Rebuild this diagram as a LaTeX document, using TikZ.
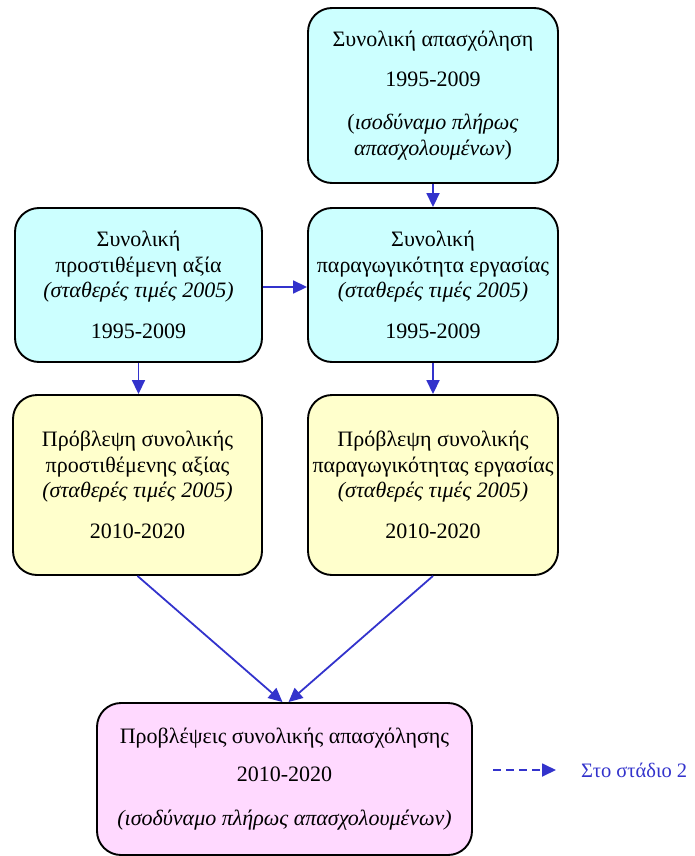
\documentclass[tikz,border=0pt]{standalone}
\usepackage{fontspec}
\setmainfont{Liberation Serif}
\usetikzlibrary{arrows.meta}
\definecolor{cyanfill}{HTML}{CCFFFF}
\definecolor{yelfill}{HTML}{FFFFCC}
\definecolor{pinkfill}{HTML}{FFD9FF}
\definecolor{arrblue}{HTML}{3333CC}
\begin{document}
\begin{tikzpicture}[x=1pt,y=-1pt,
  box/.style={draw=black, line width=1.9pt, rounded corners=24pt, align=center, inner sep=0pt,
    font=\fontsize{22}{25.5}\selectfont},
  conn/.style={draw=arrblue, line width=1.8pt, -{Triangle[length=14pt,width=13pt]}}]
\useasboundingbox (0,0) rectangle (694,856);
\node[box, fill=cyanfill, minimum width=250pt, minimum height=175pt] (A) at (433,95.5)
  {Συνολική απασχόληση\\[14pt]1995-2009\\[18pt](\textit{ισοδύναμο πλήρως}\\\textit{απασχολουμένων})};
\node[box, fill=cyanfill, minimum width=247pt, minimum height=154pt] (B) at (138.5,285)
  {Συνολική\\προστιθέμενη αξία\\\textit{(σταθερές τιμές 2005)}\\[15pt]1995-2009};
\node[box, fill=cyanfill, minimum width=250pt, minimum height=154pt] (C) at (433,285)
  {Συνολική\\παραγωγικότητα εργασίας\\\textit{(σταθερές τιμές 2005)}\\[15pt]1995-2009};
\node[box, fill=yelfill, minimum width=249pt, minimum height=180pt] (D) at (137.5,485)
  {Πρόβλεψη συνολικής\\προστιθέμενης αξίας\\\textit{(σταθερές τιμές 2005)}\\[15pt]2010-2020};
\node[box, fill=yelfill, minimum width=250pt, minimum height=180pt] (E) at (433,485)
  {Πρόβλεψη συνολικής\\παραγωγικότητας εργασίας\\\textit{(σταθερές τιμές 2005)}\\[15pt]2010-2020};
\node[box, fill=pinkfill, minimum width=375pt, minimum height=152pt] (F) at (284.5,779)
  {Προβλέψεις συνολικής απασχόλησης\\[13pt]2010-2020\\[18pt]\textit{(ισοδύναμο πλήρως απασχολουμένων)}};
\draw[conn] (A.south) -- (C.north);
\draw[conn] (B.east |- 0,287) -- (C.west |- 0,287);
\draw[conn] (B.south) -- (B.south |- D.north);
\draw[conn] (C.south) -- (E.north);
\draw[conn] (D.south) -- ([xshift=-2pt]F.north);
\draw[conn] (E.south) -- ([xshift=4pt]F.north);
\coordinate (L1) at (493,770);
\node[anchor=west, text=arrblue, inner sep=0pt, font=\fontsize{20.5}{25}\selectfont] (leg) at (581,770) {Στο στάδιο 2};
\draw[conn, dashed, dash pattern=on 8pt off 5pt] (L1) -- ([xshift=-25pt]leg.west);
\end{tikzpicture}
\end{document}
